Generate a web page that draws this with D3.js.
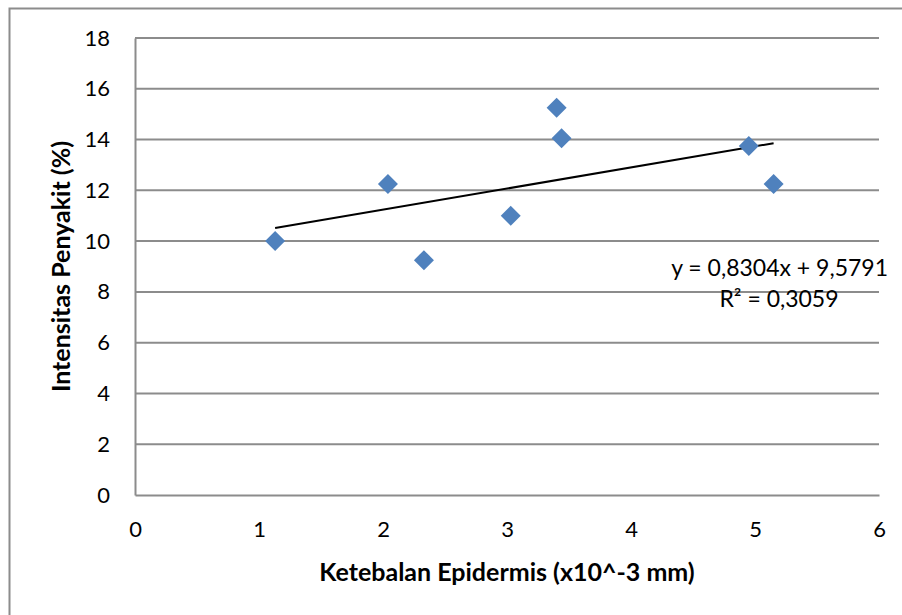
<!DOCTYPE html>
<html>
<head>
<meta charset="utf-8">
<script src="https://cdn.jsdelivr.net/npm/d3@7"></script>
<style>
  body { margin: 0; background: #fff; }
  text { font-family: Lato, "Open Sans", sans-serif; fill: #000; }
</style>
</head>
<body>
<svg id="chart" width="902" height="615"></svg>
<script>
// data
var ketebalan = [1.13, 2.04, 2.33, 3.03, 3.40, 3.44, 4.95, 5.15];
var intensitas = [10.0, 12.25, 9.25, 11.0, 15.25, 14.05, 13.75, 12.25];
var xTicks = [0, 1, 2, 3, 4, 5, 6];
var yTicks = [0, 2, 4, 6, 8, 10, 12, 14, 16, 18];
var trend = [0.8304, 9.5791]; // slope, intercept
var trendLabel = ["y = 0,8304x + 9,5791", "R\u00b2 = 0,3059"];

var svg = d3.select("#chart");
var plotL = 135, plotR = 879, plotT = 38, plotB = 495;

var x = d3.scaleLinear().domain([0, 6]).range([plotL, plotR]);
var y = d3.scaleLinear().domain([0, 18]).range([plotB, plotT]);

// outer frame
svg.append("rect")
    .attr("x", 9.5).attr("y", 8.5)
    .attr("width", 1000).attr("height", 1000)
    .attr("fill", "none")
    .attr("stroke", "#8c8c8c")
    .attr("stroke-width", 2);

// gridlines
svg.append("g").selectAll("line")
    .data(yTicks.slice(1))
    .enter().append("line")
    .attr("x1", plotL).attr("x2", plotR)
    .attr("y1", function (d) { return y(d); })
    .attr("y2", function (d) { return y(d); })
    .attr("stroke", "#8c8c8c")
    .attr("stroke-width", 2);

// axes
var yAxis = svg.append("g")
    .attr("transform", "translate(" + plotL + ",0)")
    .call(d3.axisLeft(y).tickValues(yTicks).tickFormat(d3.format("d")).tickSize(0).tickPadding(25));
var xAxis = svg.append("g")
    .attr("transform", "translate(0," + plotB + ")")
    .call(d3.axisBottom(x).tickValues(xTicks).tickFormat(d3.format("d")).tickSize(0).tickPadding(26));

[yAxis, xAxis].forEach(function (g) {
    g.select(".domain").attr("stroke", "#8c8c8c").attr("stroke-width", 2);
    g.selectAll("text").style("font-size", "22px").attr("fill", "#000");
});

// trendline
var x0 = d3.min(ketebalan), x1 = d3.max(ketebalan);
svg.append("line")
    .attr("x1", x(x0)).attr("y1", y(trend[0] * x0 + trend[1]))
    .attr("x2", x(x1)).attr("y2", y(trend[0] * x1 + trend[1]))
    .attr("stroke", "#000")
    .attr("stroke-width", 2);

// points
var sym = d3.symbol().type(d3.symbolSquare).size(200);
svg.append("g").selectAll("path")
    .data(ketebalan)
    .enter().append("path")
    .attr("d", sym)
    .attr("transform", function (d, i) {
        return "translate(" + x(d) + "," + y(intensitas[i]) + ") rotate(45)";
    })
    .attr("fill", "#4f81bd");

// equation
svg.append("text")
    .attr("x", 888).attr("y", 276)
    .attr("text-anchor", "end")
    .style("font-size", "23px")
    .text(trendLabel[0]);
svg.append("text")
    .attr("x", 779).attr("y", 307)
    .attr("text-anchor", "middle")
    .style("font-size", "23px")
    .text(trendLabel[1]);

// axis titles
svg.append("text")
    .attr("x", (plotL + plotR) / 2).attr("y", 581)
    .attr("text-anchor", "middle")
    .style("font-size", "25px").style("font-weight", "bold")
    .text("Ketebalan Epidermis (x10^-3 mm)");
svg.append("text")
    .attr("transform", "translate(70," + (plotT + plotB) / 2 + ") rotate(-90)")
    .attr("text-anchor", "middle")
    .style("font-size", "25px").style("font-weight", "bold")
    .text("Intensitas Penyakit (%)");
</script>
</body>
</html>
